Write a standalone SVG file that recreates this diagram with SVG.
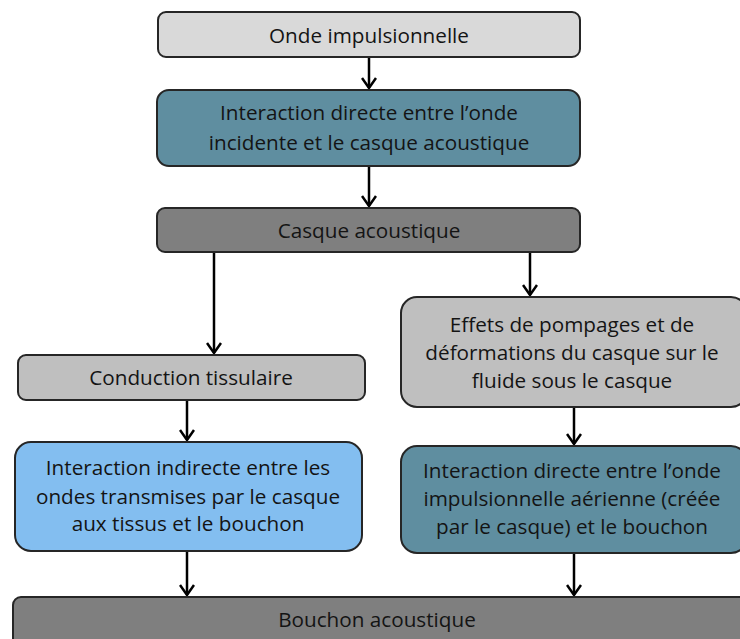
<svg xmlns="http://www.w3.org/2000/svg" width="740" height="639" viewBox="0 0 740 639">
<style>
.b{stroke:#262626;stroke-width:2}
.t{font-family:"Open Sans","Noto Sans",sans-serif;font-size:20.7px;fill:#141414;text-anchor:middle}
.c{stroke:#000;stroke-width:2.5;fill:none}
</style>
<defs>
<marker id="ah" viewBox="0 0 14 16" refX="12" refY="8" markerWidth="14" markerHeight="16" markerUnits="userSpaceOnUse" orient="auto">
<path d="M2,1 L12,8 L2,15" fill="none" stroke="#000" stroke-width="2.5"/>
</marker>
</defs>
<rect width="740" height="639" fill="#fff"/>
<g id="connectors">
<path class="c" d="M369,57 V88" marker-end="url(#ah)"/>
<path class="c" d="M369,166 V206" marker-end="url(#ah)"/>
<path class="c" d="M214,252 V353" marker-end="url(#ah)"/>
<path class="c" d="M530,252 V295" marker-end="url(#ah)"/>
<path class="c" d="M187,400 V440" marker-end="url(#ah)"/>
<path class="c" d="M574,407 V444" marker-end="url(#ah)"/>
<path class="c" d="M187,551 V595" marker-end="url(#ah)"/>
<path class="c" d="M574,553 V595" marker-end="url(#ah)"/>
</g>
<g id="n1"><rect class="b" x="158" y="12" width="422" height="45" rx="8" fill="#d9d9d9"/><text class="t" x="369" y="43">Onde impulsionnelle</text></g>
<g id="n2"><rect class="b" x="157" y="90" width="423" height="76" rx="12" fill="#5f8ea0"/><text class="t" x="369" y="120">Interaction directe entre l’onde</text><text class="t" x="369" y="150">incidente et le casque acoustique</text></g>
<g id="n3"><rect class="b" x="157" y="208" width="423" height="44" rx="8" fill="#7f7f7f"/><text class="t" x="369" y="238">Casque acoustique</text></g>
<g id="n4"><rect class="b" x="18" y="355" width="347" height="45" rx="8" fill="#bfbfbf"/><text class="t" x="191" y="385">Conduction tissulaire</text></g>
<g id="n5"><rect class="b" x="401" y="297" width="346" height="110" rx="16" fill="#bfbfbf"/><text class="t" x="572" y="332">Effets de pompages et de</text><text class="t" x="572" y="360">déformations du casque sur le</text><text class="t" x="572" y="388">fluide sous le casque</text></g>
<g id="n6"><rect class="b" x="15" y="442" width="347" height="109" rx="16" fill="#83bef0"/><text class="t" x="188" y="475">Interaction indirecte entre les</text><text class="t" x="188" y="504">ondes transmises par le casque</text><text class="t" x="188" y="531">aux tissus et le bouchon</text></g>
<g id="n7"><rect class="b" x="401" y="446" width="346" height="107" rx="16" fill="#5f8ea0"/><text class="t" x="572" y="478">Interaction directe entre l’onde</text><text class="t" x="572" y="506">impulsionnelle aérienne (créée</text><text class="t" x="572" y="534">par le casque) et le bouchon</text></g>
<g id="n8"><rect class="b" x="13" y="597" width="740" height="60" rx="8" fill="#7f7f7f"/><text class="t" x="377" y="627">Bouchon acoustique</text></g>
</svg>
